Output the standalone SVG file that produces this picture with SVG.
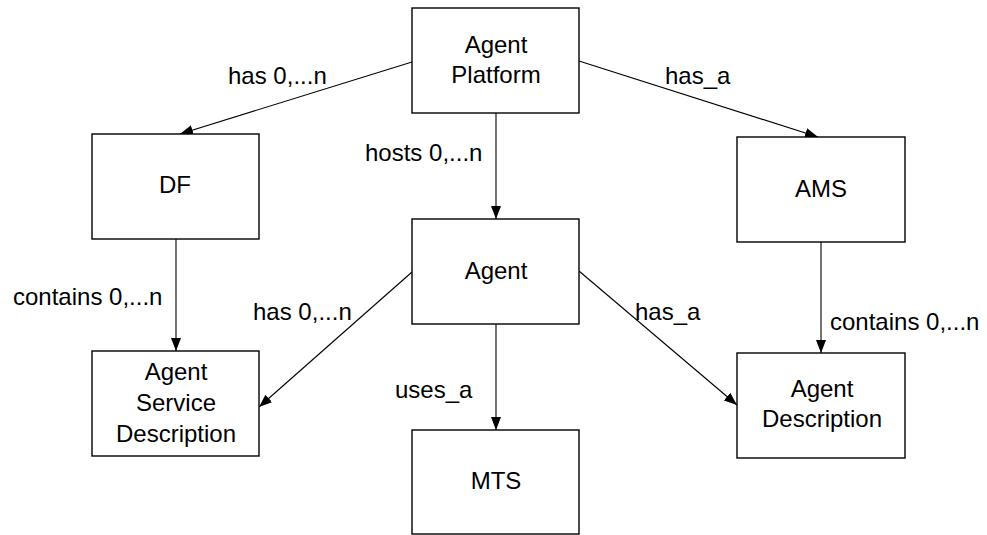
<svg xmlns="http://www.w3.org/2000/svg" width="987" height="535" viewBox="0 0 987 535">
<style>
.box{fill:#fff;stroke:#000;stroke-width:1.4}
.lbl{font-family:"Liberation Sans",Arial,sans-serif;font-size:24px;fill:#000}
.ctr{text-anchor:middle}
.con{stroke:#000;stroke-width:1.1;fill:none;marker-end:url(#arr)}
</style>
<defs>
<marker id="arr" markerUnits="userSpaceOnUse" markerWidth="14" markerHeight="12" refX="13" refY="5" orient="auto">
<path d="M0,0 L13,5 L0,10 z" fill="#000"/>
</marker>
</defs>
<rect width="987" height="535" fill="#fff"/>
<g id="connectors">
<line class="con" x1="412" y1="62" x2="180" y2="134"/>
<line class="con" x1="579" y1="61" x2="818" y2="137"/>
<line class="con" x1="496" y1="113" x2="496" y2="219"/>
<line class="con" x1="176" y1="239" x2="176" y2="351"/>
<line class="con" x1="821" y1="242" x2="821" y2="353"/>
<line class="con" x1="412" y1="272" x2="259" y2="407"/>
<line class="con" x1="579" y1="271" x2="737" y2="405"/>
<line class="con" x1="496" y1="324" x2="496" y2="430"/>
<text class="lbl" x="228" y="84">has 0,...n</text>
<text class="lbl" x="665" y="84">has_a</text>
<text class="lbl" x="365" y="161">hosts 0,...n</text>
<text class="lbl" x="13" y="305">contains 0,...n</text>
<text class="lbl" x="253" y="320">has 0,...n</text>
<text class="lbl" x="635" y="320">has_a</text>
<text class="lbl" x="830" y="330">contains 0,...n</text>
<text class="lbl" x="395" y="398">uses_a</text>
</g>
<g id="agent-platform">
<rect class="box" x="412" y="8" width="167" height="105"/>
<text class="lbl ctr" x="496" y="53">Agent</text>
<text class="lbl ctr" x="496" y="83">Platform</text>
</g>
<g id="df">
<rect class="box" x="92" y="134" width="167" height="105"/>
<text class="lbl ctr" x="175" y="193">DF</text>
</g>
<g id="ams">
<rect class="box" x="737" y="137" width="168" height="105"/>
<text class="lbl ctr" x="821" y="197">AMS</text>
</g>
<g id="agent">
<rect class="box" x="412" y="219" width="167" height="105"/>
<text class="lbl ctr" x="496" y="279">Agent</text>
</g>
<g id="agent-service-description">
<rect class="box" x="92" y="351" width="167" height="105"/>
<text class="lbl ctr" x="176" y="380">Agent</text>
<text class="lbl ctr" x="176" y="411">Service</text>
<text class="lbl ctr" x="176" y="442">Description</text>
</g>
<g id="mts">
<rect class="box" x="412" y="430" width="167" height="104"/>
<text class="lbl ctr" x="496" y="489">MTS</text>
</g>
<g id="agent-description">
<rect class="box" x="737" y="353" width="168" height="105"/>
<text class="lbl ctr" x="822" y="397">Agent</text>
<text class="lbl ctr" x="822" y="427">Description</text>
</g>
</svg>
